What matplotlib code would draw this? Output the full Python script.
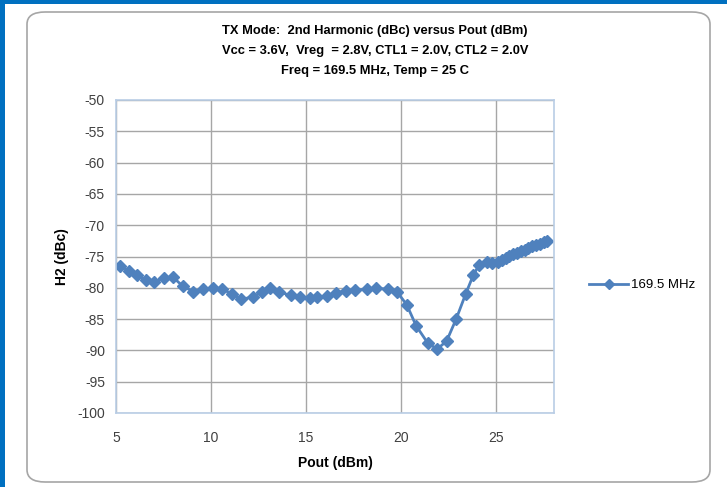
import matplotlib.pyplot as plt
from matplotlib.patches import FancyBboxPatch, Rectangle
from matplotlib.lines import Line2D

plt.rcParams['font.family'] = ['Liberation Sans Narrow', 'Liberation Sans', 'DejaVu Sans']
plt.rcParams['axes.unicode_minus'] = False

pout = [5.2, 5.7, 6.1, 6.6, 7.0, 7.5, 8.0, 8.5, 9.05, 9.6,
        10.1, 10.6, 11.1, 11.6, 12.2, 12.7, 13.1, 13.6, 14.2, 14.7,
        15.2, 15.6, 16.1, 16.6, 17.1, 17.6, 18.2, 18.7, 19.3, 19.8,
        20.3, 20.8, 21.4, 21.9, 22.4, 22.9, 23.4, 23.8, 24.1, 24.5,
        24.8, 25.1, 25.3, 25.5, 25.7, 25.9, 26.1, 26.3, 26.5, 26.7,
        26.9, 27.1, 27.3, 27.5, 27.7]
h2 = [-76.5, -77.3, -78.0, -78.8, -79.0, -78.5, -78.3, -79.7, -80.6, -80.2,
      -80.0, -80.2, -81.0, -81.8, -81.5, -80.6, -80.0, -80.7, -81.2, -81.5,
      -81.6, -81.5, -81.3, -80.8, -80.5, -80.4, -80.2, -80.1, -80.2, -80.7,
      -82.7, -86.1, -88.8, -89.8, -88.5, -85.0, -81.0, -78.0, -76.4, -75.9,
      -76.0, -75.8, -75.5, -75.2, -74.9, -74.6, -74.4, -74.1, -73.9, -73.6,
      -73.4, -73.2, -73.0, -72.7, -72.5]

title_lines = ["TX Mode:  2nd Harmonic (dBc) versus Pout (dBm)",
               "Vcc = 3.6V,  Vreg  = 2.8V, CTL1 = 2.0V, CTL2 = 2.0V",
               "Freq = 169.5 MHz, Temp = 25 C"]
series_name = "169.5 MHz"
blue = '#4F81BD'

fig = plt.figure(figsize=(7.27, 4.87), dpi=100)
fig.patch.set_facecolor('white')

# outer frame: blue strips on the top and left, rounded chart area
fig.patches.append(Rectangle((0, 0), 5 / 727, 1, transform=fig.transFigure,
                             facecolor='#0070C0', edgecolor='none', zorder=0))
fig.patches.append(Rectangle((0, 1 - 4 / 487), 1, 4 / 487, transform=fig.transFigure,
                             facecolor='#0070C0', edgecolor='none', zorder=0))
fig.patches.append(FancyBboxPatch((27 / 727, 5 / 487), 683 / 727, 470 / 487,
                                  boxstyle='round,pad=0,rounding_size=0.025',
                                  transform=fig.transFigure, facecolor='white',
                                  edgecolor='#A6A6A6', linewidth=1.2, zorder=0))

ax = fig.add_axes([116 / 727, 1 - 413 / 487, 438 / 727, 313 / 487])
ax.set_zorder(3)
ax.plot(pout, h2, color=blue, linewidth=2, marker='D', markersize=6.5,
        markeredgecolor=blue, label=series_name)

ax.set_xlim(5, 28.05)
ax.set_ylim(-100, -50)
ax.set_xticks([5, 10, 15, 20, 25])
ax.set_yticks(range(-100, -49, 5))
ax.grid(True, color='#A6A6A6', linewidth=1)
ax.set_axisbelow(True)
for s in ax.spines.values():
    s.set_color('#B9CDE5')
    s.set_linewidth(1.2)
ax.tick_params(length=0, labelsize=10, colors='#404040', pad=8)
ax.tick_params(axis='x', pad=13)

ax.set_xlabel('Pout (dBm)', fontsize=10, fontweight='bold', labelpad=8)
ax.set_ylabel('H2 (dBc)', fontsize=10, fontweight='bold', labelpad=6)

for i, t in enumerate(title_lines):
    fig.text(375 / 727, 1 - (31 + 20 * i) / 487, t, ha='center', va='center',
             fontsize=9.3, fontweight='bold', zorder=4)

handle = Line2D([], [], color=blue, linewidth=2, marker='D', markersize=5)
leg = fig.legend([handle], [series_name], loc='center left',
                 bbox_to_anchor=(577 / 727, 1 - 285 / 487), frameon=False,
                 fontsize=9.5, handlelength=3, handletextpad=0.2)
leg.set_zorder(4)

fig.savefig('out.png', dpi=100)
